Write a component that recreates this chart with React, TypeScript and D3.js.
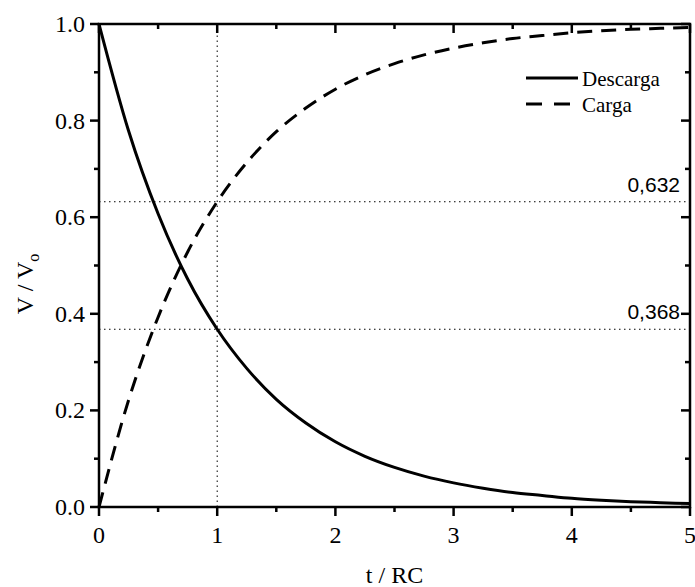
import React from "react";
import * as d3 from "d3";

const tValues = [0, 0.25, 0.5, 0.75, 1, 1.25, 1.5, 1.75, 2, 2.25, 2.5, 2.75, 3, 3.25, 3.5, 3.75, 4, 4.25, 4.5, 4.75, 5];
const descarga = [1.0, 0.779, 0.607, 0.472, 0.368, 0.287, 0.223, 0.174, 0.135, 0.105, 0.082, 0.064, 0.05, 0.039, 0.03, 0.024, 0.018, 0.014, 0.011, 0.009, 0.007];
const carga = [0.0, 0.221, 0.393, 0.528, 0.632, 0.713, 0.777, 0.826, 0.865, 0.895, 0.918, 0.936, 0.95, 0.961, 0.97, 0.976, 0.982, 0.986, 0.989, 0.991, 0.993];
const xMajorTicks = [0, 1, 2, 3, 4, 5];
const xMinorTicks = [0.5, 1.5, 2.5, 3.5, 4.5];
const yMajorTicks = [0, 0.2, 0.4, 0.6, 0.8, 1.0];
const yMinorTicks = [0.1, 0.3, 0.5, 0.7, 0.9];
const refLevels = [0.632, 0.368];
const refLabels = ["0,632", "0,368"];
const refTime = 1;
const seriesNames = ["Descarga", "Carga"];

export default function App() {
  const W = 695, H = 587;
  const left = 99, right = 690, top = 24, bottom = 507;
  const x = d3.scaleLinear().domain([0, 5]).range([left, right]);
  const y = d3.scaleLinear().domain([0, 1]).range([bottom, top]);
  const line = d3
    .line<number>()
    .x((_, i) => x(tValues[i]))
    .y((d) => y(d))
    .curve(d3.curveMonotoneX);
  const serif = "'Liberation Serif', 'Times New Roman', serif";
  const sans = "'Liberation Sans', Arial, sans-serif";
  const majorLen = 9, minorLen = 5;
  return (
    <svg width={W} height={H} style={{ position: "absolute", left: 0, top: 0, background: "#fff" }}>
      {/* reference dotted lines */}
      {refLevels.map((v, i) => (
        <line key={"h" + i} x1={x(0)} x2={x(5)} y1={y(v)} y2={y(v)} stroke="#000" strokeWidth={1} strokeDasharray="1.5,3.5" />
      ))}
      <line x1={x(refTime)} x2={x(refTime)} y1={y(0)} y2={y(1)} stroke="#000" strokeWidth={1} strokeDasharray="1.5,3.5" />
      {refLevels.map((v, i) => (
        <text key={"rl" + i} x={right - 10} y={y(v) - 10} textAnchor="end" fontFamily={sans} fontSize={21} fill="#000">
          {refLabels[i]}
        </text>
      ))}
      {/* curves */}
      <path d={line(descarga) || ""} fill="none" stroke="#000" strokeWidth={3} />
      <path d={line(carga) || ""} fill="none" stroke="#000" strokeWidth={3} strokeDasharray="15,9" />
      {/* frame */}
      <rect x={left} y={top} width={right - left} height={bottom - top} fill="none" stroke="#000" strokeWidth={2.5} />
      {/* bottom axis ticks (outward) and top (inward) */}
      {xMajorTicks.map((t) => (
        <g key={"xm" + t}>
          <line x1={x(t)} x2={x(t)} y1={bottom} y2={bottom + majorLen} stroke="#000" strokeWidth={2.5} />
          <line x1={x(t)} x2={x(t)} y1={top} y2={top + majorLen} stroke="#000" strokeWidth={2.5} />
          <text x={x(t)} y={bottom + 36} textAnchor="middle" fontFamily={serif} fontSize={24} fill="#000">
            {t}
          </text>
        </g>
      ))}
      {xMinorTicks.map((t) => (
        <g key={"xn" + t}>
          <line x1={x(t)} x2={x(t)} y1={bottom} y2={bottom + minorLen} stroke="#000" strokeWidth={2.5} />
          <line x1={x(t)} x2={x(t)} y1={top} y2={top + minorLen} stroke="#000" strokeWidth={2.5} />
        </g>
      ))}
      {/* left axis ticks (outward) and right (inward) */}
      {yMajorTicks.map((v) => (
        <g key={"ym" + v}>
          <line x1={left - majorLen} x2={left} y1={y(v)} y2={y(v)} stroke="#000" strokeWidth={2.5} />
          <line x1={right - majorLen} x2={right} y1={y(v)} y2={y(v)} stroke="#000" strokeWidth={2.5} />
          <text x={left - 14} y={y(v) + 8} textAnchor="end" fontFamily={serif} fontSize={24} fill="#000">
            {v.toFixed(1)}
          </text>
        </g>
      ))}
      {yMinorTicks.map((v) => (
        <g key={"yn" + v}>
          <line x1={left - minorLen} x2={left} y1={y(v)} y2={y(v)} stroke="#000" strokeWidth={2.5} />
          <line x1={right - minorLen} x2={right} y1={y(v)} y2={y(v)} stroke="#000" strokeWidth={2.5} />
        </g>
      ))}
      {/* axis titles */}
      <text x={(left + right) / 2} y={583} textAnchor="middle" fontFamily={serif} fontSize={24} fill="#000">
        t / RC
      </text>
      <text transform={`translate(33, 284) rotate(-90)`} textAnchor="middle" fontFamily={serif} fontSize={24} fill="#000">
        V / V<tspan fontSize={16} dy={6}>o</tspan>
      </text>
      {/* legend */}
      <line x1={526} x2={578} y1={78} y2={78} stroke="#000" strokeWidth={3} />
      <text x={582} y={86} fontFamily={serif} fontSize={21} fill="#000">{seriesNames[0]}</text>
      <line x1={526} x2={578} y1={104} y2={104} stroke="#000" strokeWidth={3} strokeDasharray="16,12" />
      <text x={582} y={112} fontFamily={serif} fontSize={21} fill="#000">{seriesNames[1]}</text>
    </svg>
  );
}
